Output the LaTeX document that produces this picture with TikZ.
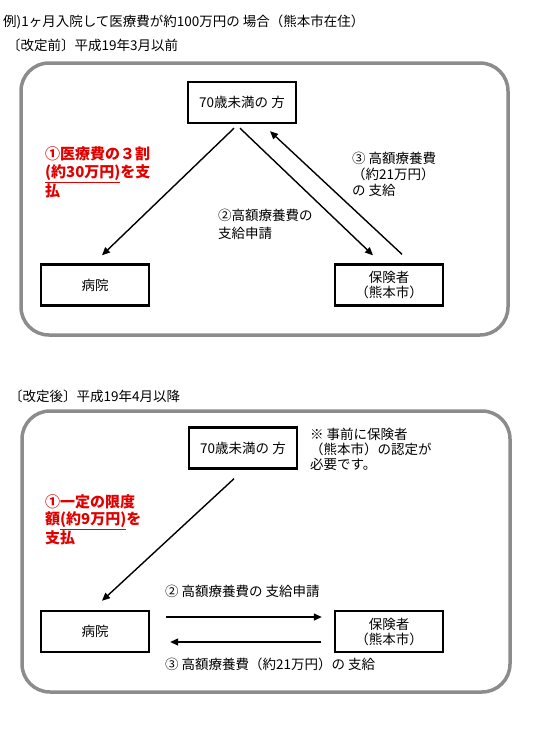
\documentclass[tikz,border=0pt]{standalone}
\usepackage{fontspec}
\setmainfont{Noto Sans CJK JP}
\usetikzlibrary{arrows.meta,calc}
\definecolor{wakuiro}{RGB}{140,140,140}
\definecolor{akairo}{RGB}{225,0,0}
\tikzset{
  hako/.style={draw,line width=2.4pt,minimum width=108pt,minimum height=41pt,
    inner sep=0pt,align=center,font=\fontsize{13.5}{15}\selectfont},
  waku/.style={draw=wakuiro,line width=3.5pt,rounded corners=28pt},
  ya/.style={line width=1.4pt,-{Triangle[length=8pt,width=7pt]}},
  moji/.style={inner sep=0pt,anchor=west,align=left,font=\fontsize{13.5}{16}\selectfont},
  aka/.style={moji,text=akairo,font=\bfseries\fontsize{15}{17.5}\selectfont},
}
\begin{document}
\begin{tikzpicture}[x=1pt,y=-1pt]
  \useasboundingbox (0,0) rectangle (551,734);
  \node[moji] (rei) at (3,22) {例)1ヶ月入院して医療費が約100万円の 場合（熊本市在住）};
  \node[moji] (mae) at (7,45) {〔改定前〕平成19年3月以前};
  \draw[waku] (21,63) rectangle (508,335);
  \node[hako] (kata1) at (242,102.5) {70歳未満の 方};
  \node[hako] (byoin1) at (95,285) {病院};
  \node[hako] (hoken1) at (389,285) {保険者\\（熊本市）};
  \draw[ya] ($(kata1.south)+(-8,4)$) -- ($(byoin1.north)+(7,-8)$);
  \draw[ya] ($(kata1.south)+(-2,4)$) -- ($(hoken1.north)+(-16,-8)$);
  \draw[ya] ($(hoken1.north)+(13,-9)$) -- ($(kata1.south)+(28,7)$);
  \node[aka] (shiharai1) at (45,172.5) {①医療費の３割\\\underline{(約30万円)}を支\\払};
  \node[moji,font=\fontsize{13.5}{18}\selectfont] (shinsei1) at (218,224) {②高額療養費の\\支給申請};
  \node[moji] (shikyu1) at (352,174) {③ 高額療養費\\（約21万円）\\の 支給};

  \node[moji] (ato) at (9,396) {〔改定後〕平成19年4月以降};
  \draw[waku] (22,411) rectangle (510,692);
  \node[hako] (kata2) at (243,448) {70歳未満の 方};
  \node[moji,font=\fontsize{13.5}{15}\selectfont] (chui) at (310,449.5) {※ 事前に保険者\\（熊本市）の認定が\\必要です。};
  \node[hako] (byoin2) at (95,631.5) {病院};
  \node[hako] (hoken2) at (389,631.5) {保険者\\（熊本市）};
  \node[aka] (shiharai2) at (45,520) {①一定の限度\\額\underline{(約9万円)}を\\支払};
  \draw[ya] ($(kata2.south)+(-9,9)$) -- ($(byoin2.north)+(7,-9)$);
  \draw[ya] ($(byoin2.east)+(16,-14.5)$) -- ($(hoken2.west)+(-12,-14.5)$);
  \draw[ya] ($(hoken2.west)+(-13,10.5)$) -- ($(byoin2.east)+(20,10.5)$);
  \node[moji] (shinsei2) at (165,591) {② 高額療養費の 支給申請};
  \node[moji] (shikyu2) at (165,664) {③ 高額療養費（約21万円）の 支給};
\end{tikzpicture}
\end{document}
